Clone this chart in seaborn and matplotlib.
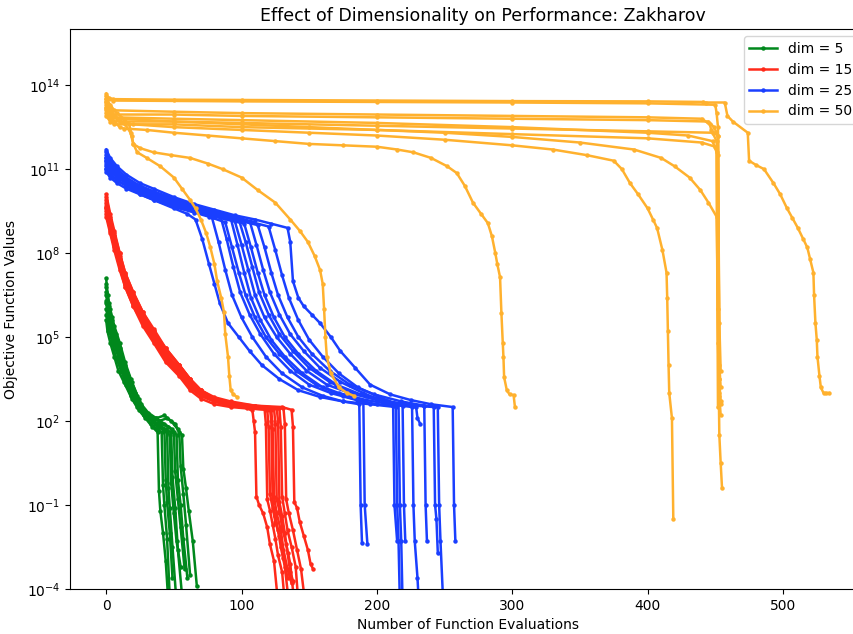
import numpy as np
import pandas as pd
import matplotlib
matplotlib.use('Agg')
import matplotlib.pyplot as plt
from matplotlib.ticker import NullLocator
import seaborn as sns

dims = [5, 15, 25, 50]
colors = ['#00881c', '#ff2a1a', '#1a3fff', '#ffb12e']

# every run is a list of (function evaluations, log10 of objective value)
dim5_runs = [
    [(0, 6.0), (2, 5.5), (4, 5.1), (7, 4.6), (10, 4.1), (14, 3.6), (18, 3.1), (23, 2.6), (28, 2.2), (33, 1.9), (38, 1.7), (41, 1.6), (42, -0.3), (43, -1.0), (45, -2.2), (47, -4.3)],
    [(0, 6.9), (2, 6.2), (4, 5.7), (7, 5.1), (10, 4.6), (14, 4.0), (18, 3.5), (23, 2.9), (28, 2.4), (33, 2.1), (38, 1.8), (43, 1.7), (44, -0.1), (45, -0.9), (47, -2.0), (49, -3.6)],
    [(0, 7.1), (1, 6.5), (3, 6.0), (6, 5.4), (10, 4.8), (14, 4.1), (19, 3.4), (24, 2.8), (29, 2.3), (34, 2.0), (40, 1.8), (45, 1.6), (46, -0.4), (47, -1.1), (49, -2.5), (52, -4.5)],
    [(0, 6.3), (2, 5.8), (4, 5.3), (7, 4.8), (11, 4.3), (15, 3.7), (20, 3.1), (25, 2.6), (30, 2.2), (36, 1.9), (42, 1.7), (47, 1.5), (48, -0.2), (50, -1.3), (52, -2.3), (55, -3.2)],
    [(0, 5.6), (1, 5.2), (3, 4.8), (6, 4.3), (9, 3.8), (13, 3.4), (18, 2.9), (23, 2.5), (28, 2.2), (34, 2.0), (40, 1.9), (46, 1.8), (50, 1.6), (51, 0.2), (53, -0.8), (55, -1.8), (58, -3.3)],
    [(0, 6.6), (2, 6.0), (5, 5.4), (8, 4.8), (12, 4.2), (16, 3.6), (21, 3.0), (26, 2.6), (31, 2.3), (37, 2.1), (43, 1.9), (49, 1.7), (52, 1.5), (53, -0.1), (55, -1.0), (57, -2.2), (60, -3.6)],
    [(0, 6.8), (2, 6.1), (4, 5.6), (7, 5.0), (10, 4.5), (14, 3.9), (18, 3.3), (23, 2.8), (28, 2.4), (33, 2.1), (39, 2.0), (45, 2.1), (51, 1.9), (54, 1.6), (55, 0.4), (57, -0.6), (59, -1.7), (62, -3.5)],
    [(0, 6.2), (1, 5.9), (3, 5.4), (5, 5.0), (8, 4.5), (12, 3.9), (16, 3.4), (21, 2.9), (26, 2.5), (31, 2.2), (37, 2.1), (43, 2.2), (48, 2.0), (53, 1.7), (56, 1.5), (57, 0.3), (59, -0.4), (61, -1.2), (64, -2.3), (67, -3.9)],
    [(0, 5.8), (2, 5.3), (4, 4.9), (7, 4.3), (11, 3.8), (15, 3.3), (19, 2.8), (24, 2.4), (29, 2.1), (34, 1.8), (38, 1.6), (39, -0.5), (40, -1.2), (42, -2.0), (44, -3.0), (46, -4.5)],
    [(0, 6.5), (2, 5.9), (5, 5.2), (8, 4.7), (12, 4.1), (16, 3.5), (21, 2.9), (26, 2.5), (32, 2.1), (38, 1.9), (44, 1.7), (48, 1.6), (49, 0.0), (51, -1.1), (53, -2.6), (56, -4.2)],
]

dim15_runs = [
    [(0, 9.6), (3, 8.9), (6, 8.3), (10, 7.5), (14, 6.8), (20, 6.1), (27, 5.4), (35, 4.8), (44, 4.1), (54, 3.6), (62, 3.1), (70, 2.8), (80, 2.6), (92, 2.5), (104, 2.45), (108, 2.4), (109, 2.0), (110, 1.6), (111, -0.7), (113, -1.0), (116, -1.3), (119, -1.8), (121, -2.4), (124, -3.0), (127, -4.5)],
    [(0, 10.1), (3, 9.4), (6, 8.8), (10, 8.0), (14, 7.3), (20, 6.6), (27, 5.9), (35, 5.3), (44, 4.6), (54, 4.0), (62, 3.5), (70, 3.1), (80, 2.8), (92, 2.65), (105, 2.55), (117, 2.45), (118, 1.9), (119, -0.8), (121, -1.2), (123, -1.7), (125, -2.2), (127, -2.8), (130, -3.4), (132, -4.5)],
    [(0, 9.4), (3, 8.8), (6, 8.2), (10, 7.5), (14, 6.9), (20, 6.2), (27, 5.5), (35, 4.9), (44, 4.2), (54, 3.7), (62, 3.2), (70, 2.9), (80, 2.7), (92, 2.55), (106, 2.45), (119, 2.4), (120, 1.8), (121, -0.6), (123, -1.1), (125, -1.6), (128, -2.1), (131, -2.9), (134, -3.6)],
    [(0, 9.9), (3, 9.2), (6, 8.6), (10, 7.8), (14, 7.1), (20, 6.4), (27, 5.7), (35, 5.1), (44, 4.4), (54, 3.9), (62, 3.4), (70, 3.0), (80, 2.75), (92, 2.6), (105, 2.5), (121, 2.45), (122, 2.0), (123, -0.9), (125, -1.4), (127, -1.9), (129, -2.5), (132, -3.2), (135, -4.5)],
    [(0, 9.5), (3, 8.9), (6, 8.4), (10, 7.6), (14, 6.9), (20, 6.3), (27, 5.6), (35, 4.9), (44, 4.3), (54, 3.8), (62, 3.3), (70, 2.95), (80, 2.7), (92, 2.55), (106, 2.45), (122, 2.4), (123, 1.7), (124, -0.7), (126, -1.3), (129, -1.9), (131, -2.6), (134, -3.3), (137, -3.8)],
    [(0, 10.0), (3, 9.3), (6, 8.7), (10, 8.0), (14, 7.3), (20, 6.6), (27, 5.9), (35, 5.2), (44, 4.6), (54, 4.0), (62, 3.5), (70, 3.1), (80, 2.8), (92, 2.65), (106, 2.5), (124, 2.45), (125, 1.9), (126, -0.8), (128, -1.2), (130, -1.8), (133, -2.4), (136, -3.1), (139, -4.5)],
    [(0, 9.7), (3, 9.1), (6, 8.5), (10, 7.7), (14, 7.0), (20, 6.3), (27, 5.6), (35, 5.0), (44, 4.4), (54, 3.8), (62, 3.35), (70, 3.0), (80, 2.75), (92, 2.6), (108, 2.5), (126, 2.45), (127, 2.0), (128, -0.9), (130, -1.4), (132, -2.0), (134, -2.7), (136, -3.4), (138, -3.7)],
    [(0, 9.3), (3, 8.7), (6, 8.1), (10, 7.4), (14, 6.8), (20, 6.1), (27, 5.5), (35, 4.9), (44, 4.2), (54, 3.7), (62, 3.2), (70, 2.9), (80, 2.7), (92, 2.55), (110, 2.5), (128, 2.45), (129, 1.8), (130, -0.7), (132, -1.3), (134, -1.9), (137, -2.5), (140, -3.2), (142, -4.5)],
    [(0, 9.8), (3, 9.2), (6, 8.6), (10, 7.9), (14, 7.2), (20, 6.5), (27, 5.8), (35, 5.2), (44, 4.5), (54, 4.0), (62, 3.5), (70, 3.1), (80, 2.85), (92, 2.7), (110, 2.55), (131, 2.45), (132, 1.9), (133, -0.8), (135, -1.3), (138, -1.9), (141, -2.6), (144, -3.3), (147, -4.5)],
    [(0, 9.6), (3, 9.0), (6, 8.4), (10, 7.7), (14, 7.0), (20, 6.3), (27, 5.6), (35, 5.0), (44, 4.3), (54, 3.8), (62, 3.3), (70, 3.0), (80, 2.8), (92, 2.65), (110, 2.55), (130, 2.5), (137, 2.4), (138, 1.8), (139, -0.9), (141, -1.1), (143, -1.6), (146, -2.1), (149, -2.6), (151, -3.1), (153, -3.3)],
]

dim25_runs = [
    [(0, 11.0), (3, 10.8), (8, 10.6), (15, 10.4), (25, 10.1), (35, 9.9), (50, 9.6), (60, 9.4), (66, 9.2), (71, 8.5), (76, 7.6), (80, 6.9), (84, 6.2), (90, 5.5), (98, 5.0), (106, 4.5), (115, 4.0), (128, 3.5), (142, 3.1), (158, 2.86), (175, 2.7), (195, 2.6), (214, 2.5), (215, -1.0), (216, -2.3), (217, -4.5)],
    [(0, 11.4), (3, 11.1), (8, 10.8), (15, 10.5), (25, 10.2), (35, 10.0), (50, 9.7), (65, 9.5), (78, 9.3), (83, 8.4), (88, 7.4), (93, 6.5), (100, 5.7), (108, 5.0), (118, 4.3), (130, 3.7), (145, 3.2), (160, 2.9), (175, 2.7), (187, 2.6), (188, -1.0), (189, -2.35)],
    [(0, 11.6), (3, 11.3), (8, 11.0), (15, 10.7), (25, 10.4), (35, 10.2), (50, 9.95), (65, 9.7), (84, 9.4), (89, 8.5), (94, 7.5), (99, 6.6), (106, 5.8), (114, 5.1), (124, 4.4), (136, 3.8), (150, 3.3), (166, 3.0), (185, 2.75), (200, 2.6), (212, 2.55), (213, -1.0), (215, -2.3)],
    [(0, 10.9), (3, 10.7), (8, 10.5), (15, 10.3), (25, 10.1), (35, 9.9), (50, 9.65), (65, 9.45), (76, 9.3), (88, 9.1), (93, 8.2), (98, 7.3), (103, 6.5), (110, 5.7), (118, 5.0), (128, 4.4), (140, 3.8), (155, 3.3), (172, 3.0), (192, 2.75), (210, 2.6), (226, 2.5), (227, -1.0), (228, -2.3), (230, -3.6), (231, -4.5)],
    [(0, 11.3), (3, 11.0), (8, 10.8), (15, 10.6), (25, 10.3), (35, 10.1), (50, 9.85), (65, 9.6), (80, 9.4), (92, 9.25), (97, 8.3), (102, 7.3), (107, 6.4), (114, 5.6), (122, 4.9), (132, 4.3), (145, 3.7), (160, 3.2), (175, 2.9), (190, 2.7), (191, -1.0), (193, -2.4)],
    [(0, 11.2), (3, 11.0), (8, 10.7), (15, 10.5), (25, 10.25), (35, 10.05), (50, 9.8), (65, 9.55), (80, 9.35), (95, 9.15), (100, 8.3), (105, 7.4), (110, 6.5), (117, 5.7), (126, 5.0), (136, 4.4), (148, 3.8), (163, 3.3), (180, 3.0), (200, 2.75), (220, 2.6), (235, 2.55), (236, -1.0), (237, -2.3)],
    [(0, 11.5), (3, 11.2), (8, 10.9), (15, 10.6), (25, 10.35), (35, 10.15), (50, 9.9), (65, 9.65), (80, 9.45), (98, 9.2), (103, 8.4), (108, 7.5), (113, 6.6), (120, 5.8), (128, 5.1), (138, 4.5), (150, 3.9), (165, 3.4), (182, 3.0), (200, 2.8), (218, 2.6), (229, 2.5), (230, 2.1), (232, 1.9)],
    [(0, 11.0), (3, 10.8), (8, 10.6), (15, 10.4), (25, 10.15), (35, 9.95), (50, 9.7), (65, 9.5), (80, 9.3), (102, 9.05), (107, 8.2), (112, 7.3), (117, 6.5), (124, 5.7), (132, 5.0), (142, 4.4), (155, 3.8), (170, 3.3), (188, 2.95), (208, 2.7), (228, 2.55), (242, 2.5), (243, -1.0), (244, -1.5), (245, -2.7)],
    [(0, 11.4), (3, 11.1), (8, 10.9), (15, 10.6), (25, 10.4), (35, 10.2), (50, 9.9), (65, 9.7), (80, 9.5), (95, 9.3), (106, 9.15), (111, 8.3), (116, 7.4), (121, 6.6), (128, 5.8), (136, 5.1), (146, 4.5), (158, 3.9), (173, 3.4), (190, 3.0), (205, 2.7), (216, 2.6), (217, -1.0), (218, -2.3), (219, -4.5)],
    [(0, 11.1), (3, 10.9), (8, 10.7), (15, 10.5), (25, 10.2), (35, 10.0), (50, 9.75), (65, 9.55), (80, 9.35), (95, 9.2), (112, 9.0), (117, 8.2), (122, 7.3), (127, 6.5), (134, 5.7), (142, 5.0), (152, 4.4), (165, 3.8), (180, 3.3), (198, 2.95), (218, 2.7), (235, 2.55), (245, 2.5), (246, -1.0), (247, -2.3), (249, -4.5)],
    [(0, 11.3), (3, 11.0), (8, 10.8), (15, 10.5), (25, 10.3), (35, 10.1), (50, 9.8), (65, 9.6), (80, 9.4), (95, 9.25), (108, 9.1), (120, 8.95), (125, 8.1), (130, 7.2), (135, 6.4), (142, 5.6), (150, 4.9), (160, 4.3), (172, 3.7), (186, 3.2), (200, 2.9), (212, 2.65), (219, 2.55), (220, -1.0), (221, -2.3)],
    [(0, 11.7), (3, 11.4), (8, 11.1), (15, 10.8), (25, 10.5), (35, 10.3), (50, 10.0), (65, 9.75), (80, 9.55), (95, 9.35), (110, 9.2), (122, 9.05), (134, 8.9), (136, 8.4), (138, 7.0), (142, 6.4), (146, 6.1), (152, 5.8), (158, 5.5), (166, 5.0), (173, 4.5), (184, 3.9), (195, 3.3), (210, 2.95), (225, 2.75), (240, 2.6), (256, 2.5), (257, -1.0), (258, -2.3)],
]

dim50_runs = [
    [(0, 13.2), (3, 13.0), (8, 12.8), (14, 12.6), (18, 12.3), (20, 11.9), (23, 11.6), (30, 11.4), (40, 11.1), (50, 10.7), (56, 10.3), (62, 9.9), (66, 9.6), (70, 9.2), (74, 8.7), (77, 8.2), (80, 7.6), (82, 7.0), (85, 6.4), (87, 5.9), (88, 5.1), (90, 4.3), (91, 3.6), (92, 3.1), (94, 2.95), (97, 2.85)],
    [(0, 13.4), (3, 13.2), (8, 13.0), (13, 12.8), (17, 12.6), (19, 12.2), (20, 11.9), (25, 11.75), (35, 11.6), (48, 11.5), (62, 11.4), (75, 11.2), (86, 11.0), (100, 10.7), (112, 10.25), (125, 9.8), (136, 9.2), (143, 8.8), (149, 8.4), (154, 7.9), (158, 7.4), (160, 6.9), (161, 6.0), (162, 5.0), (163, 4.3), (166, 3.7), (172, 3.2), (178, 3.0), (183, 2.9)],
    [(0, 13.3), (3, 13.0), (6, 12.7), (10, 12.5), (13, 12.45), (30, 12.4), (50, 12.3), (75, 12.2), (100, 12.1), (125, 12.0), (150, 11.9), (175, 11.85), (200, 11.8), (215, 11.7), (227, 11.6), (240, 11.4), (252, 11.1), (259, 10.86), (265, 10.4), (271, 9.8), (277, 9.4), (282, 9.07), (285, 8.6), (287.5, 8.0), (289, 7.6), (291, 7.14), (292, 5.86), (293, 4.8), (293.5, 4.3), (294, 3.57), (296, 3.1), (298, 2.95), (301, 2.93), (302, 2.5)],
    [(0, 13.5), (3, 13.2), (6, 12.9), (10, 12.7), (20, 12.6), (50, 12.5), (100, 12.4), (150, 12.3), (200, 12.2), (250, 12.05), (300, 11.85), (330, 11.7), (355, 11.5), (375, 11.3), (381, 11.0), (387, 10.5), (393, 10.1), (400, 9.6), (404, 9.2), (407, 8.9), (411, 8.1), (414, 7.3), (414.5, 6.4), (415, 5.2), (415.5, 4.0), (416, 3.0), (418, 2.1), (419, -1.5)],
    [(0, 13.4), (3, 13.1), (6, 12.9), (10, 12.8), (50, 12.7), (100, 12.6), (150, 12.5), (200, 12.4), (250, 12.3), (300, 12.15), (350, 11.95), (390, 11.7), (410, 11.4), (420, 11.1), (431, 10.7), (439, 10.25), (445, 9.8), (451, 9.3), (452, 6.0), (452.5, 3.5), (453, 1.5), (454, 0.5), (455, -0.4)],
    [(0, 13.6), (2, 13.55), (5, 13.5), (50, 13.48), (100, 13.47), (200, 13.45), (300, 13.43), (400, 13.42), (441, 13.4), (443, 13.38), (457, 13.38), (459, 12.9), (463, 12.7), (474, 12.3), (475, 11.3), (480, 11.15), (486, 11.0), (493, 10.5), (498, 10.1), (503, 9.6), (507, 9.25), (511, 8.9), (515, 8.5), (518, 8.2), (520, 7.8), (522.5, 7.3), (523, 6.5), (524, 5.5), (525, 4.9), (525.5, 4.3), (527, 3.6), (528, 3.2), (530, 3.0), (532, 3.0), (534, 3.0)],
    [(0, 13.7), (2, 13.5), (5, 13.45), (100, 13.42), (200, 13.4), (300, 13.38), (400, 13.35), (450, 13.3), (451, 13.0), (452, 12.5), (453, 4.0), (454, 3.2)],
    [(0, 13.2), (3, 12.9), (6, 12.95), (50, 12.95), (100, 12.9), (200, 12.85), (300, 12.8), (400, 12.75), (445, 12.7), (449, 12.5), (452, 12.2), (453, 3.5), (454, 2.6)],
    [(0, 13.0), (3, 12.8), (6, 12.7), (50, 12.7), (100, 12.65), (200, 12.55), (300, 12.45), (400, 12.35), (448, 12.3), (451, 12.0), (452, 4.8), (453, 2.9), (454, 2.2)],
    [(0, 12.9), (3, 12.7), (6, 12.6), (50, 12.6), (100, 12.5), (200, 12.4), (300, 12.25), (400, 12.1), (440, 11.95), (450, 11.8), (452, 11.5), (453, 5.5), (454, 3.8)],
    [(0, 13.1), (3, 12.9), (6, 12.85), (50, 12.8), (100, 12.75), (200, 12.65), (300, 12.5), (400, 12.3), (430, 12.2), (448, 12.0), (451, 11.6), (452, 2.5)],
    [(0, 13.5), (3, 13.3), (6, 13.1), (50, 13.05), (100, 13.0), (200, 12.95), (300, 12.9), (400, 12.85), (440, 12.8), (446, 12.6), (447, 12.4), (449, 12.3), (452, 12.2), (453, 3.0), (454, 2.7)],
]

rows = []
for dim, runs in zip(dims, [dim5_runs, dim15_runs, dim25_runs, dim50_runs]):
    for r, run in enumerate(runs):
        for x, e in run:
            rows.append((f'dim = {dim}', f'{dim}-{r}', x, 10.0 ** e))
df = pd.DataFrame(rows, columns=['dim', 'run', 'evals', 'value'])

palette = {f'dim = {d}': c for d, c in zip(dims, colors)}

fig = plt.figure(figsize=(8.54, 6.34), dpi=100)
ax = fig.add_axes([0.082, 0.071, 0.931, 0.883])
sns.lineplot(data=df, x='evals', y='value', hue='dim', units='run', estimator=None,
             sort=False, palette=palette, marker='o', markersize=3.2,
             markeredgewidth=0, linewidth=1.8, ax=ax)

ax.set_yscale('log')
ax.set_ylim(1e-4, 1e16)
ax.set_xlim(-26.7, 560.7)
ax.set_yticks([1e-4, 1e-1, 1e2, 1e5, 1e8, 1e11, 1e14])
ax.yaxis.set_minor_locator(NullLocator())
ax.set_xticks([0, 100, 200, 300, 400, 500])

ax.set_title('Effect of Dimensionality on Performance: Zakharov', fontsize=12.5, x=0.519)
ax.set_xlabel('Number of Function Evaluations')
ax.set_ylabel('Objective Function Values', labelpad=6)
sns.move_legend(ax, 'upper right', title=None)

fig.savefig('out.png', dpi=100)
